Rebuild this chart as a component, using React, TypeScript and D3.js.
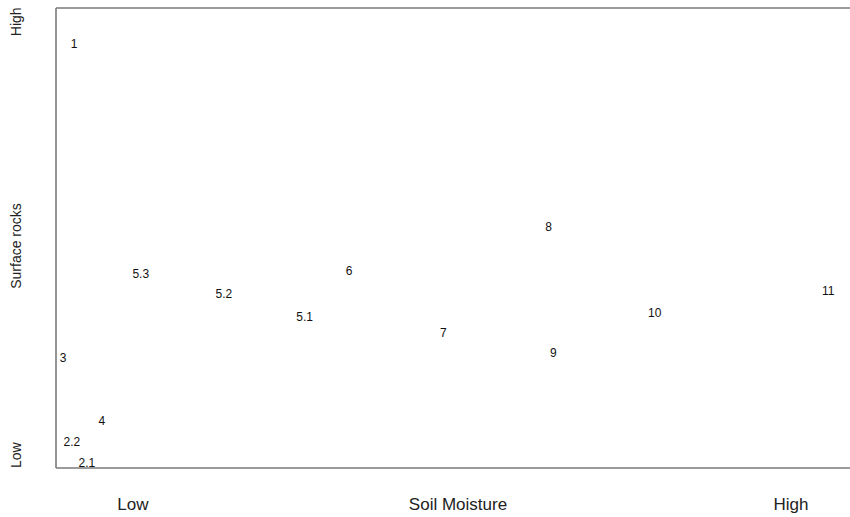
import { useEffect, useRef } from 'react';
import * as d3 from 'd3';

const labels = ['1', '3', '5.3', '5.2', '5.1', '6', '7', '8', '9', '10', '11', '4', '2.2', '2.1'];
const moisture = [2.3, 0.9, 10.7, 21.2, 31.4, 37.0, 48.9, 62.2, 62.8, 75.6, 97.5, 5.8, 2.0, 3.9];
const rocks = [92.2, 23.9, 42.2, 37.8, 32.8, 42.8, 29.3, 52.4, 25.0, 33.7, 38.5, 10.2, 5.7, 1.1];

const xTicks = [
  { value: 9.7, text: 'Low' },
  { value: 92.8, text: 'High' },
];
const yTicks = [
  { value: 97, text: 'High' },
  { value: 2.8, text: 'Low' },
];

export default function App() {
  const svgRef = useRef<SVGSVGElement | null>(null);

  useEffect(() => {
    if (!svgRef.current) return;
    const svg = d3.select(svgRef.current);
    svg.selectAll('*').remove();

    const width = 850;
    const height = 517;
    const margin = { top: 8, right: 0, bottom: 49, left: 56 };

    const x = d3.scaleLinear().domain([0, 100]).range([margin.left, width - 2]);
    const y = d3.scaleLinear().domain([0, 100]).range([height - margin.bottom, margin.top]);

    const font = 'Liberation Sans, Arial, sans-serif';

    // frame: left, top, bottom
    const frame = svg.append('g').attr('stroke', '#7a7a7a').attr('stroke-width', 1.6).attr('fill', 'none');
    frame.append('line').attr('x1', x(0)).attr('x2', x(0)).attr('y1', y(100)).attr('y2', y(0));
    frame.append('line').attr('x1', x(0)).attr('x2', width).attr('y1', y(100)).attr('y2', y(100));
    frame.append('line').attr('x1', x(0)).attr('x2', width).attr('y1', y(0)).attr('y2', y(0));

    // point labels
    svg
      .append('g')
      .selectAll('text')
      .data(labels)
      .join('text')
      .attr('x', (_d, i) => x(moisture[i]))
      .attr('y', (_d, i) => y(rocks[i]))
      .attr('text-anchor', 'middle')
      .attr('dominant-baseline', 'central')
      .attr('font-family', font)
      .attr('font-size', 12)
      .attr('fill', '#111')
      .text((d) => d);

    // x axis words
    svg
      .append('g')
      .selectAll('text')
      .data(xTicks)
      .join('text')
      .attr('x', (d) => x(d.value))
      .attr('y', 510)
      .attr('text-anchor', 'middle')
      .attr('font-family', font)
      .attr('font-size', 17)
      .attr('fill', '#222')
      .text((d) => d.text);

    svg
      .append('text')
      .attr('x', 458)
      .attr('y', 510)
      .attr('text-anchor', 'middle')
      .attr('font-family', font)
      .attr('font-size', 17)
      .attr('fill', '#222')
      .text('Soil Moisture');

    // y axis words
    svg
      .append('g')
      .selectAll('text')
      .data(yTicks)
      .join('text')
      .attr('transform', (d) => `translate(21,${y(d.value)}) rotate(-90)`)
      .attr('text-anchor', 'middle')
      .attr('font-family', font)
      .attr('font-size', 14)
      .attr('fill', '#222')
      .text((d) => d.text);

    svg
      .append('text')
      .attr('transform', `translate(21,246) rotate(-90)`)
      .attr('text-anchor', 'middle')
      .attr('font-family', font)
      .attr('font-size', 14)
      .attr('fill', '#222')
      .text('Surface rocks');
  }, []);

  return (
    <svg
      ref={svgRef}
      width={850}
      height={517}
      style={{ position: 'absolute', left: 0, top: 0, background: '#fff' }}
    />
  );
}
